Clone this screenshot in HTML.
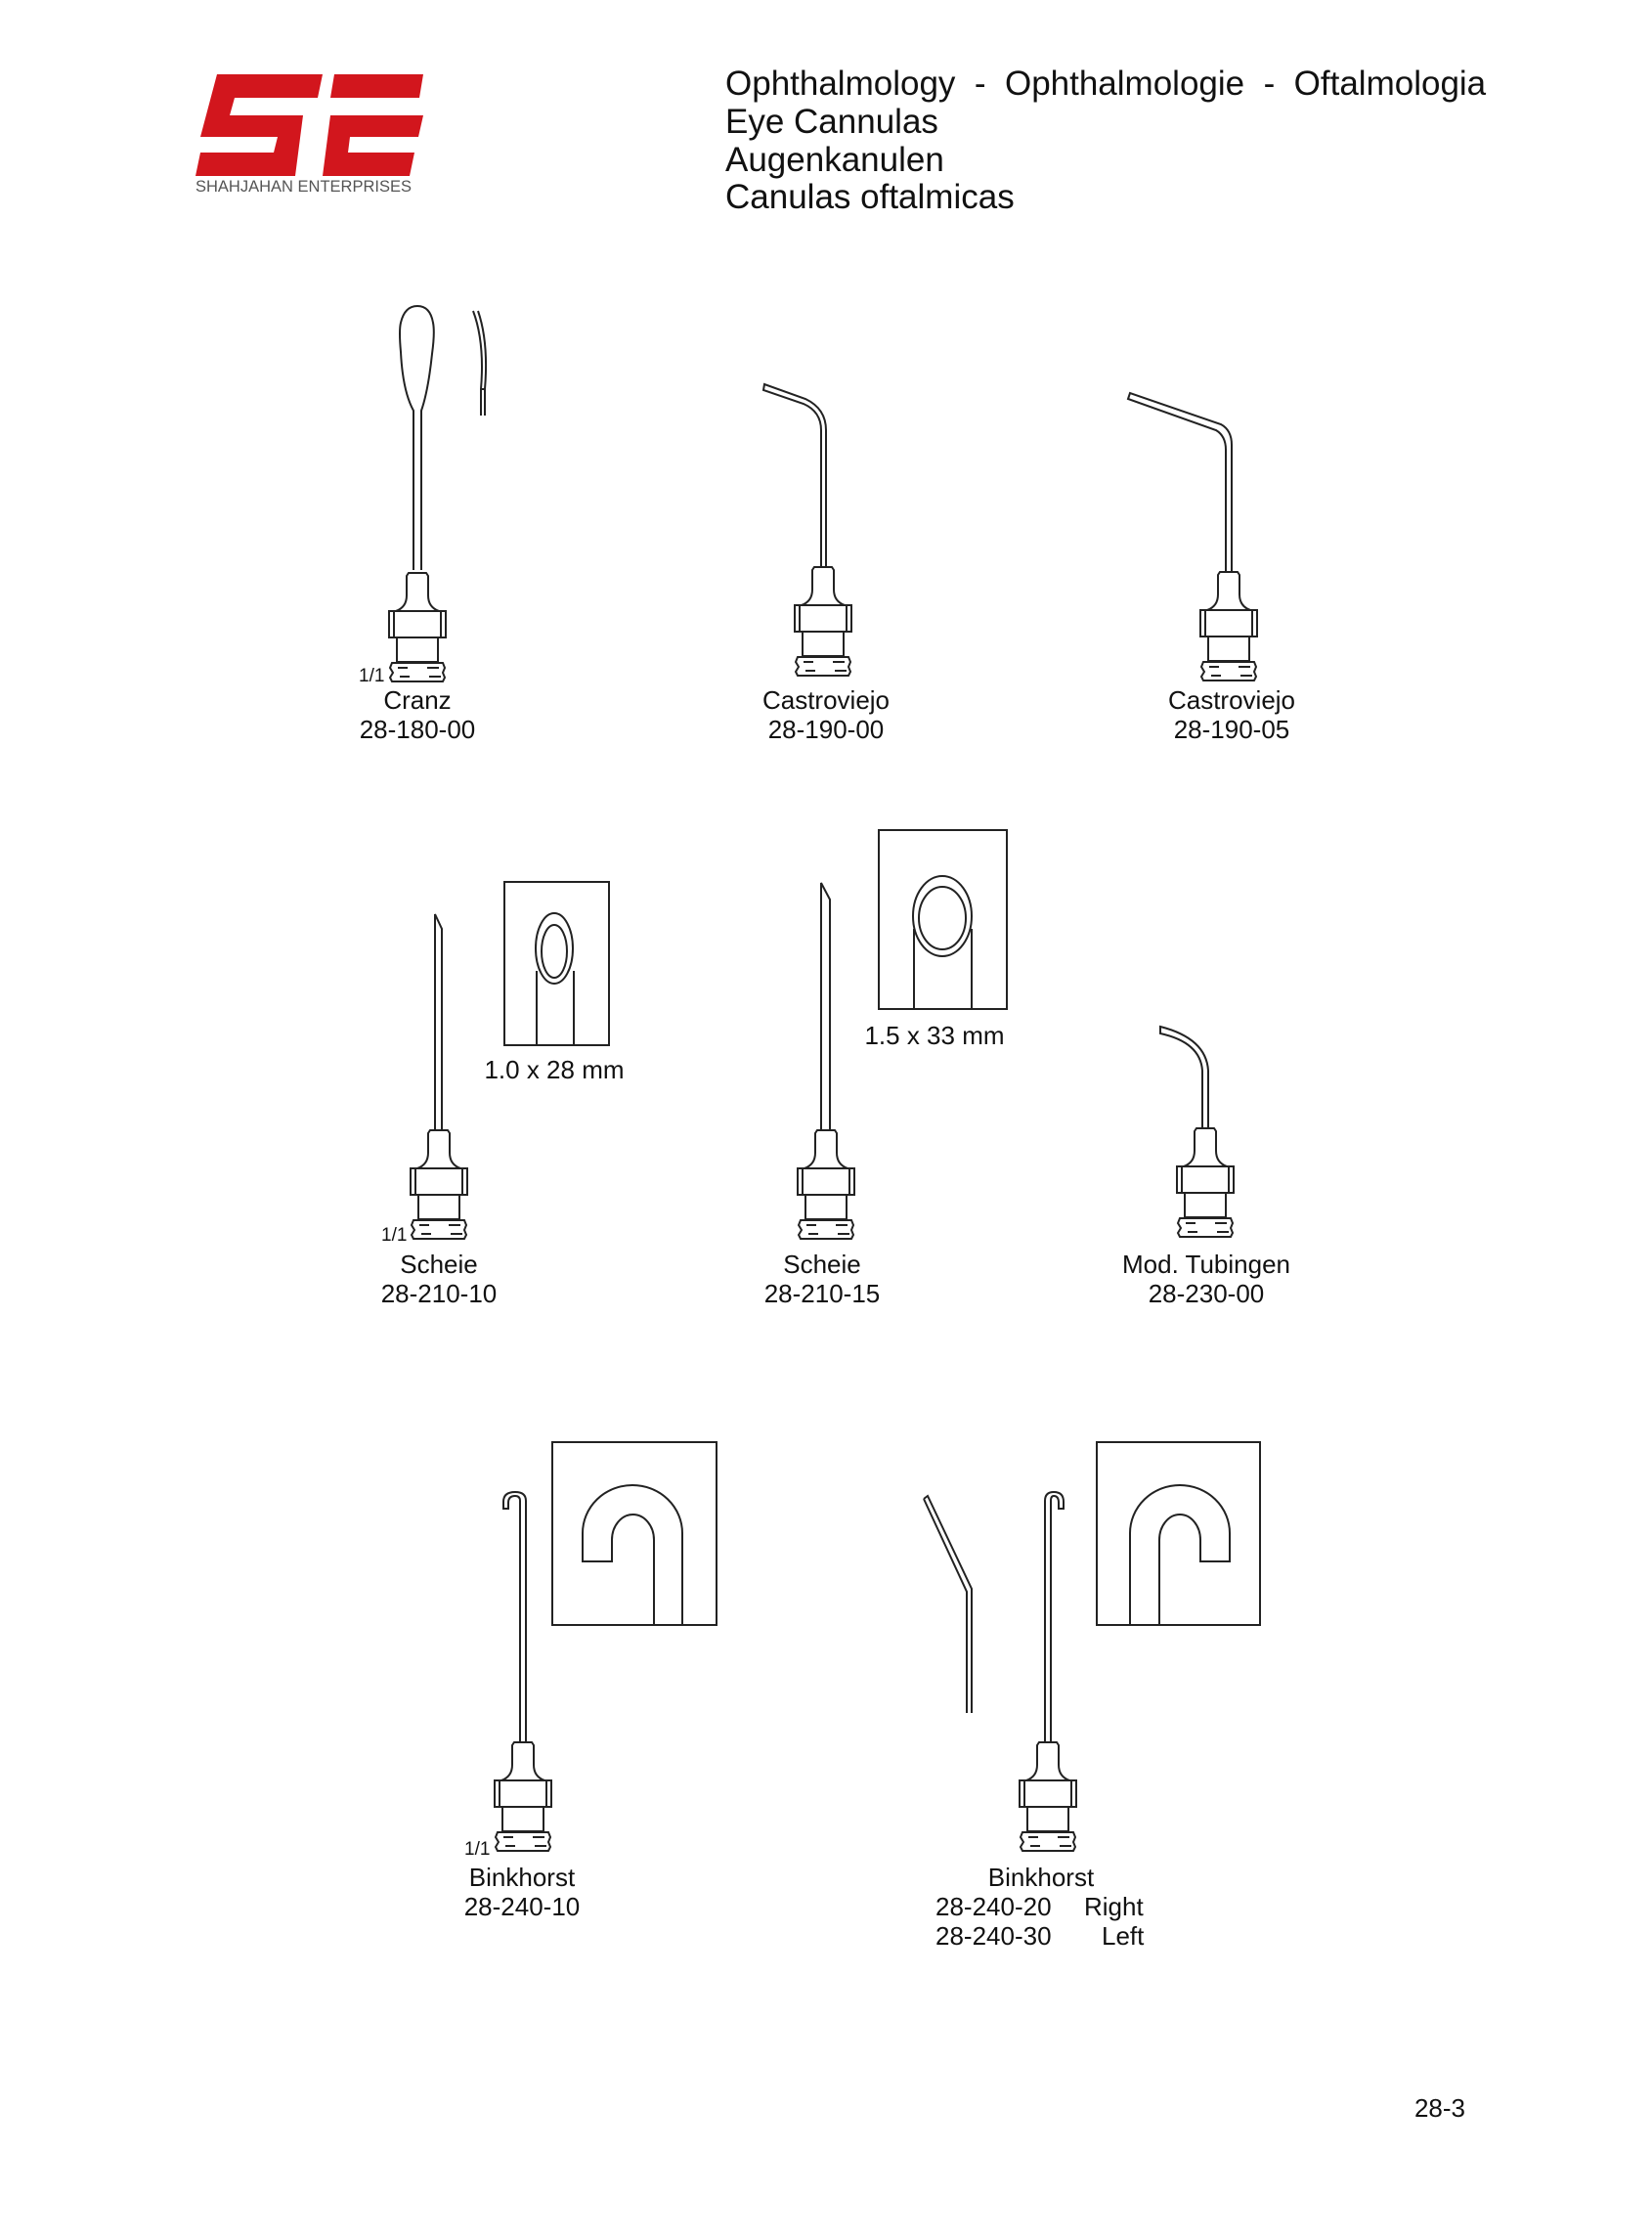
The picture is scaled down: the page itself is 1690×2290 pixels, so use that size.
<!DOCTYPE html>
<html><head><meta charset="utf-8">
<style>
html,body{margin:0;padding:0;background:#fff;}
body{width:1690px;height:2290px;position:relative;overflow:hidden;font-family:"Liberation Sans",Arial,sans-serif;}
svg{position:absolute;left:0;top:0;}
text{font-family:"Liberation Sans",Arial,sans-serif;fill:#111;white-space:pre;}
</style></head><body>
<svg width="1690" height="2290" viewBox="0 0 1690 2290">
<defs>
<g id="hub" fill="#fff" stroke="#222" stroke-width="2">
  <path d="M-9,-39 L9,-39 L11,-36 L11,-16 Q11,-4 22,0 L-22,0 Q-11,-4 -11,-16 L-11,-36 Z"/>
  <rect x="-29" y="0" width="58" height="27"/>
  <line x1="-24" y1="0" x2="-24" y2="27"/>
  <line x1="24" y1="0" x2="24" y2="27"/>
  <rect x="-21" y="27" width="42" height="25"/>
  <path d="M-26,53 L26,53 L28,58 L26,63 L28,68 L26,72 L-26,72 L-28,68 L-25,63 L-28,58 Z"/>
  <path d="M-20,58 L-10,58 M-18,67 L-8,67 M10,58 L22,58 M12,67 L24,67" stroke-width="2"/>
</g>
</defs>

<!-- Logo -->
<g fill="#d2161d">
  <polygon points="222,76 330,76 325,100 240,100 235,118 310,118 302,180 200,180 205,156 280,156 284,140 205,140"/>
  <polygon points="335,118 433,118 428,140 358,140 356,156 424,156 419,180 330,180 338,118"/>
  <polygon points="342,76 433,76 429,100 338,100"/>
</g>
<text x="200" y="196" font-size="16.5" style="fill:#555">SHAHJAHAN ENTERPRISES</text>

<!-- Title -->
<text x="742" y="97" font-size="35" xml:space="preserve">Ophthalmology  -  Ophthalmologie  -  Oftalmologia</text>
<text x="742" y="136" font-size="35">Eye Cannulas</text>
<text x="742" y="175" font-size="35">Augenkanulen</text>
<text x="742" y="213" font-size="35">Canulas oftalmicas</text>

<g fill="none" stroke="#222" stroke-width="2">
<!-- Cranz -->
<path d="M423,583 L423,420 Q412,400 410,360 Q408,338 410,330 Q414,313 427,313 Q440,313 443,330 Q445,340 442,362 Q438,400 431,420 L431,583" fill="#fff"/>
<path d="M484,318 Q496,350 492,398 L492,425 M489,318 Q500,350 496,398 L496,425"/>
<line x1="492" y1="398" x2="496" y2="398"/>
<!-- Castroviejo 1 -->
<path d="M841,580 L841,440 Q841,418 820,408 L778,393 L777,399 L818,413 Q836,421 836,440 L836,580" transform="translate(4,0)"/>
<!-- Castroviejo 2 -->
<path d="M1256,585 L1256,455 Q1256,440 1245,434 L1152,402 L1150,408 L1240,440 Q1250,446 1250,460 L1250,585" transform="translate(4,0)"/>
<!-- Scheie 1 -->
<path d="M445,1155 L445,935 L452,950 L452,1155"/>
<!-- Scheie 2 -->
<path d="M840,1155 L840,903 L849,920 L849,1155"/>
<!-- Tubingen -->
<path d="M1236,1155 L1236,1095 Q1234,1062 1187,1050 L1187,1057 Q1228,1066 1230,1095 L1230,1155"/>
<!-- Binkhorst 1 -->
<path d="M532,1782 L532,1535 Q532,1530 527,1530 Q520,1530 520,1537 L520,1543 L515,1543 L515,1536 Q515,1526 527,1526 Q538,1526 538,1535 L538,1782"/>
<!-- side piece -->
<path d="M945,1533 L949,1530 L994,1625 L994,1752 M989,1752 L989,1628 L945,1533"/>
<!-- Binkhorst 2 -->
<path d="M1069,1782 L1069,1535 Q1069,1526 1078,1526 Q1088,1526 1088,1536 L1088,1543 L1083,1543 L1083,1537 Q1083,1530 1078,1530 Q1075,1530 1075,1535 L1075,1782"/>
</g>

<!-- hubs -->
<use href="#hub" x="427" y="625"/>
<use href="#hub" x="842" y="619"/>
<use href="#hub" x="1257" y="624"/>
<use href="#hub" x="449" y="1195"/>
<use href="#hub" x="845" y="1195"/>
<use href="#hub" x="1233" y="1193"/>
<use href="#hub" x="535" y="1821"/>
<use href="#hub" x="1072" y="1821"/>

<!-- insets -->
<g fill="none" stroke="#222" stroke-width="2">
<rect x="516" y="902" width="107" height="167"/>
<ellipse cx="567" cy="970" rx="19" ry="36"/>
<ellipse cx="567" cy="973" rx="13" ry="27"/>
<path d="M549,993 L549,1069 M587,993 L587,1069"/>
<rect x="899" y="849" width="131" height="183"/>
<ellipse cx="964" cy="937" rx="30" ry="41"/>
<ellipse cx="964" cy="939" rx="24" ry="32"/>
<path d="M935,950 L935,1032 M994,950 L994,1032"/>
<rect x="565" y="1475" width="168" height="187"/>
<path d="M698,1662 L698,1568 A51,49 0 0 0 596,1568 L596,1597 L626,1597 L626,1575 A21.5,26 0 0 1 669,1575 L669,1662"/>
<rect x="1122" y="1475" width="167" height="187"/>
<path d="M1156,1662 L1156,1568 A51,49 0 0 1 1258,1568 L1258,1597 L1228,1597 L1228,1575 A21,26 0 0 0 1186,1575 L1186,1662"/>
</g>

<!-- labels -->
<g font-size="26" text-anchor="middle">
<text x="427" y="725">Cranz</text>
<text x="427" y="755">28-180-00</text>
<text x="845" y="725">Castroviejo</text>
<text x="845" y="755">28-190-00</text>
<text x="1260" y="725">Castroviejo</text>
<text x="1260" y="755">28-190-05</text>
<text x="567" y="1103">1.0 x 28 mm</text>
<text x="956" y="1068">1.5 x 33 mm</text>
<text x="449" y="1302">Scheie</text>
<text x="449" y="1332">28-210-10</text>
<text x="841" y="1302">Scheie</text>
<text x="841" y="1332">28-210-15</text>
<text x="1234" y="1302">Mod. Tubingen</text>
<text x="1234" y="1332">28-230-00</text>
<text x="534" y="1929">Binkhorst</text>
<text x="534" y="1959">28-240-10</text>
<text x="1065" y="1929">Binkhorst</text>
<text x="1473" y="2165">28-3</text>
</g>
<g font-size="26">
<text x="957" y="1959">28-240-20</text><text x="1109" y="1959">Right</text>
<text x="957" y="1989">28-240-30</text><text x="1127" y="1989">Left</text>
</g>
<g font-size="19">
<text x="367" y="697">1/1</text>
<text x="390" y="1269">1/1</text>
<text x="475" y="1897">1/1</text>
</g>
</svg>
</body></html>
